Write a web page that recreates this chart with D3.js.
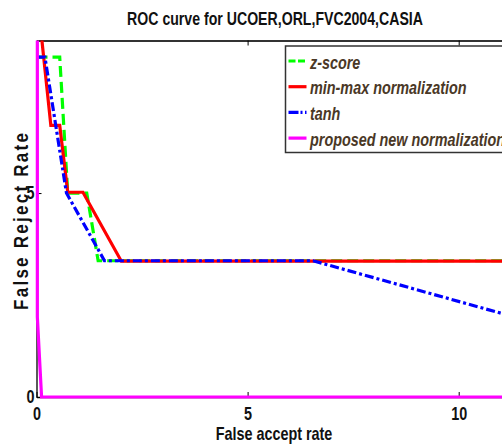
<!DOCTYPE html>
<html>
<head>
<meta charset="utf-8">
<script src="https://cdn.jsdelivr.net/npm/d3@7/dist/d3.min.js"></script>
<style>
  body { margin: 0; background: #fff; overflow: hidden; }
  svg { display: block; }
  text { font-family: "Liberation Sans", Arial, sans-serif; }
</style>
</head>
<body>
<div id="chart"></div>
<script>
// tick values
var xTicks = [0, 5, 10];
var yTicks = [0, 5];

// series (x = false accept rate, y = false reject rate)
var zscoreX = [0, 0.55, 0.74, 1.19, 1.46, 11.05];
var zscoreY = [8.33, 8.33, 5.0, 5.0, 3.34, 3.34];

var minmaxX = [0, 0.34, 0.55, 0.74, 1.10, 2.01, 11.05];
var minmaxY = [10, 6.66, 6.66, 5.02, 5.02, 3.33, 3.33];

var tanhX = [0, 0.2, 0.71, 1.61, 6.55, 11.05];
var tanhY = [8.33, 8.33, 5.0, 3.34, 3.34, 2.04];

var proposedX = [0.02, 0.02, 0.12, 11.05];
var proposedY = [10, 1.96, 0, 0];

var seriesNames = ["z-score", "min-max normalization", "tanh", "proposed new normalization"];

var width = 502, height = 446;
var margin = {top: 40.5, left: 36.5, bottom: 49, right: -20};

var svg = d3.select("#chart").append("svg")
    .attr("width", width)
    .attr("height", height);

// x runs past the right edge of the window, like the cropped original
var x = d3.scaleLinear().domain([0, 11.5]).range([margin.left, margin.left + 11.5 * 42.22]);
var y = d3.scaleLinear().domain([0, 8.74]).range([height - margin.bottom, margin.top]);

var plotRight = x(11.5);

svg.append("clipPath").attr("id", "clip")
  .append("rect")
    .attr("x", margin.left - 3)
    .attr("y", margin.top)
    .attr("width", plotRight - margin.left + 3)
    .attr("height", y(0) - margin.top + 3);

// axes
var gx = svg.append("g")
    .attr("transform", "translate(0," + y(0) + ")")
    .call(d3.axisBottom(x).tickValues(xTicks).tickFormat(d3.format("d"))
      .tickSizeInner(-5).tickSizeOuter(0).tickPadding(10));

var gTop = svg.append("g")
    .attr("transform", "translate(0," + margin.top + ")")
    .call(d3.axisTop(x).tickValues(xTicks).tickFormat("")
      .tickSizeInner(-5).tickSizeOuter(0));

var gy = svg.append("g")
    .attr("transform", "translate(" + margin.left + ",0)")
    .call(d3.axisLeft(y).tickValues(yTicks).tickFormat(d3.format("d"))
      .tickSizeInner(-5).tickSizeOuter(0));

[gx, gTop, gy].forEach(function(g) {
  g.select(".domain").attr("stroke", "#000").attr("stroke-width", 1.3);
  g.selectAll(".tick line").attr("stroke", "#000").attr("stroke-width", 1);
  g.selectAll(".tick text")
    .attr("fill", "#111")
    .style("font-size", "18px")
    .style("font-weight", "bold");
});
gTop.select(".domain").attr("stroke", "#333").attr("stroke-width", 2);
gx.selectAll(".tick text").attr("transform", "scale(0.8,1)");
gy.selectAll(".tick text")
    .attr("x", -2.5)
    .attr("transform", "scale(0.8,1)");

// lines
var plot = svg.append("g").attr("clip-path", "url(#clip)");

function pts(xs, ys) {
  return xs.map(function(v, i) { return [v, ys[i]]; });
}
var line = d3.line()
    .x(function(d) { return x(d[0]); })
    .y(function(d) { return y(d[1]); });

var series = [
  {data: pts(zscoreX, zscoreY), color: "#00ff00", dash: "11,5", legendDash: "7,2.5"},
  {data: pts(minmaxX, minmaxY), color: "#ff0000", dash: null, legendDash: null},
  {data: pts(tanhX, tanhY), color: "#0000ff", dash: "9,3,3,3", legendDash: "10,2,2,2.5"},
  {data: pts(proposedX, proposedY), color: "#ff00ff", dash: null, legendDash: null}
];

series.forEach(function(s) {
  plot.append("path")
    .datum(s.data)
    .attr("fill", "none")
    .attr("stroke", s.color)
    .attr("stroke-width", 3.2)
    .attr("stroke-dasharray", s.dash)
    .attr("d", line);
});

// title and axis labels
svg.append("text")
    .attr("transform", "translate(275,25) scale(0.785,1)")
    .attr("text-anchor", "middle")
    .style("font-size", "18px")
    .style("font-weight", "bold")
    .attr("fill", "#111")
    .text("ROC curve for UCOER,ORL,FVC2004,CASIA");

svg.append("text")
    .attr("transform", "translate(274,440) scale(0.8,1)")
    .attr("text-anchor", "middle")
    .style("font-size", "18px")
    .style("font-weight", "bold")
    .attr("fill", "#111")
    .text("False accept rate");

// rotated label: narrowed glyphs, wide letter spacing
svg.append("text")
    .attr("transform", "translate(28,221.5) rotate(-90) scale(0.85,1)")
    .attr("text-anchor", "middle")
    .attr("textLength", 208)
    .attr("lengthAdjust", "spacing")
    .style("font-size", "20px")
    .style("font-weight", "bold")
    .attr("fill", "#111")
    .text("False Reject Rate");

// legend
var legend = svg.append("g").attr("transform", "translate(285.5,46)");
legend.append("rect")
    .attr("width", 260)
    .attr("height", 106.5)
    .attr("fill", "#fff")
    .attr("stroke", "#333")
    .attr("stroke-width", 1.5);

series.forEach(function(s, i) {
  var ly = 15 + i * 25.7;
  legend.append("line")
    .attr("x1", 3).attr("x2", 21)
    .attr("y1", ly).attr("y2", ly)
    .attr("stroke", s.color)
    .attr("stroke-width", 3.2)
    .attr("stroke-dasharray", s.legendDash);
  legend.append("text")
    .attr("transform", "translate(24.5," + (ly + 7.5) + ") scale(0.8,1)")
    .style("font-size", "18px")
    .style("font-weight", "bold")
    .style("font-style", "italic")
    .attr("fill", "#4a3826")
    .text(seriesNames[i]);
});
</script>
</body>
</html>
